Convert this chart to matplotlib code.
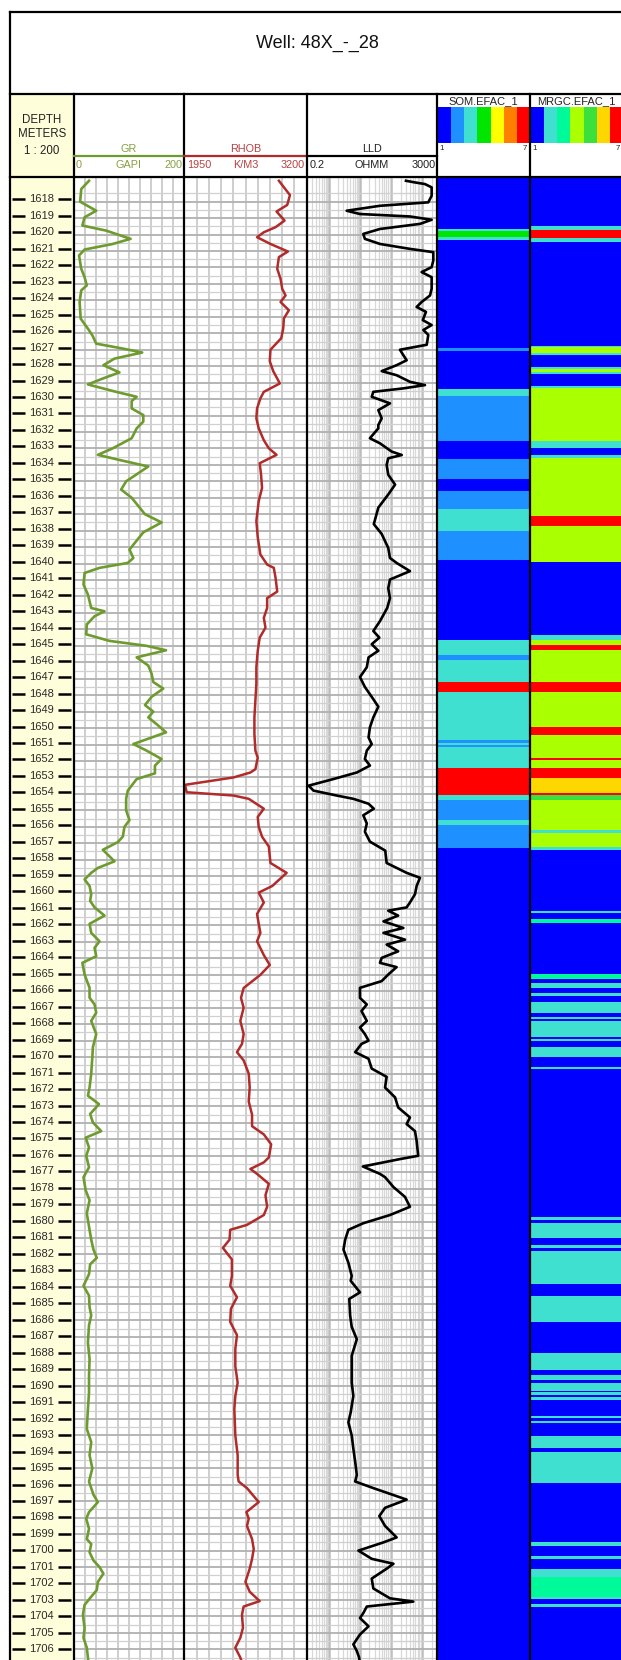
import numpy as np
import matplotlib
matplotlib.use("Agg")
import matplotlib.pyplot as plt
from matplotlib.colors import ListedColormap
from matplotlib.patches import Rectangle

plt.rcParams['font.family'] = ['Liberation Sans', 'DejaVu Sans']

# ---------------------------------------------------------------- data
WELL_NAME = "Well: 48X_-_28"
DEPTH_TICKS = list(range(1618, 1707))

GR_DEPTH = [1616.73, 1617.23, 1618.00, 1618.55, 1618.95, 1619.45, 1619.76, 1620.26, 1620.57, 1620.91,
            1621.27, 1622.08, 1622.59, 1623.09, 1623.39, 1624.10, 1625.11, 1625.72, 1626.12, 1626.63,
            1626.93, 1627.17, 1627.54, 1627.94, 1628.38, 1628.75, 1629.11, 1629.56, 1629.86, 1630.12,
            1630.57, 1630.97, 1631.37, 1631.78, 1632.38, 1632.99, 1633.39, 1633.70, 1634.10, 1635.00,
            1635.50, 1636.00, 1636.50, 1637.00, 1637.50, 1638.10, 1638.60, 1639.15, 1639.66, 1639.96,
            1640.26, 1640.57, 1641.27, 1641.88, 1642.70, 1642.90, 1643.20, 1643.70, 1644.30, 1644.70,
            1645.00, 1645.27, 1645.70, 1646.20, 1646.70, 1647.20, 1647.60, 1648.10, 1648.60, 1649.00,
            1649.35, 1649.76, 1650.26, 1650.57, 1650.97, 1651.37, 1651.88, 1652.28, 1652.75, 1653.10,
            1653.50, 1653.80, 1654.30, 1655.00, 1655.60, 1656.00, 1656.60, 1656.93, 1657.40, 1657.70,
            1658.10, 1658.50, 1658.80, 1659.20, 1659.60, 1660.10, 1660.50, 1660.90, 1661.40, 1661.90,
            1662.45, 1662.96, 1663.36, 1663.87, 1664.27, 1664.98, 1665.79, 1666.39, 1666.80, 1667.30,
            1667.80, 1668.60, 1669.40, 1670.00, 1671.00, 1671.85, 1672.35, 1672.86, 1673.46, 1673.97,
            1674.50, 1674.90, 1675.50, 1676.00, 1676.70, 1677.30, 1678.10, 1678.70, 1679.50, 1680.30,
            1681.10, 1681.70, 1682.20, 1682.60, 1683.20, 1683.90, 1684.50, 1685.20, 1685.70, 1686.30,
            1687.35, 1688.36, 1689.37, 1690.40, 1691.40, 1692.60, 1693.40, 1694.20, 1695.00, 1695.80,
            1696.60, 1697.05, 1697.66, 1698.06, 1698.67, 1699.30, 1699.60, 1700.10, 1700.60, 1701.00,
            1701.40, 1701.90, 1702.40, 1702.80, 1703.30, 1703.90, 1704.70, 1705.30, 1705.90, 1706.50,
            1706.80]
GR_API = [28, 14, 12, 41, 20, 16, 59, 103, 71, 20,
          10, 14, 20, 24, 14, 11, 13, 26, 34, 41,
          89, 124, 74, 54, 83, 53, 26, 77, 114, 105,
          105, 126, 126, 114, 105, 71, 44, 83, 135, 95,
          86, 105, 117, 129, 159, 126, 114, 101, 108, 98,
          47, 20, 18, 26, 32, 56, 38, 24, 23, 65,
          132, 167, 114, 135, 141, 144, 162, 141, 129, 144,
          135, 150, 167, 141, 108, 132, 159, 147, 147, 114,
          105, 98, 95, 95, 101, 92, 89, 80, 53, 62,
          74, 44, 32, 20, 29, 32, 30, 38, 56, 29,
          32, 47, 38, 41, 16, 20, 29, 29, 38, 41,
          32, 41, 35, 34, 32, 29, 26, 46, 30, 35,
          50, 22, 28, 23, 28, 18, 22, 29, 24, 28,
          32, 36, 42, 30, 28, 18, 28, 29, 32, 28,
          26, 29, 28, 28, 26, 24, 32, 29, 34, 28,
          36, 44, 28, 23, 28, 24, 32, 29, 36, 47,
          54, 44, 42, 32, 20, 17, 20, 18, 24, 26,
          27]

RHOB_DEPTH = [1616.73, 1617.60, 1618.20, 1618.60, 1619.15, 1619.55, 1619.86, 1620.16, 1620.57, 1621.03,
              1621.37, 1622.08, 1622.69, 1623.30, 1623.70, 1624.10, 1624.60, 1625.10, 1625.72, 1626.30,
              1627.00, 1627.70, 1628.30, 1629.05, 1629.56, 1629.96, 1630.57, 1631.17, 1631.78, 1632.50,
              1632.99, 1633.39, 1633.90, 1634.60, 1635.40, 1636.20, 1637.40, 1638.40, 1639.45, 1640.06,
              1640.26, 1640.87, 1641.70, 1642.10, 1642.70, 1643.30, 1643.90, 1644.50, 1645.30, 1646.30,
              1647.30, 1648.30, 1649.35, 1650.36, 1651.37, 1651.80, 1652.50, 1652.70, 1653.00, 1653.45,
              1653.90, 1654.10, 1654.30, 1654.90, 1655.40, 1656.00, 1656.60, 1657.20, 1658.20, 1658.80,
              1659.60, 1660.00, 1660.60, 1661.30, 1661.90, 1662.45, 1662.96, 1663.80, 1664.40, 1665.00,
              1665.80, 1666.40, 1667.00, 1667.80, 1668.60, 1669.20, 1669.70, 1670.20, 1671.00, 1671.85,
              1672.70, 1673.50, 1674.20, 1674.70, 1675.30, 1676.10, 1676.40, 1676.80, 1677.10, 1677.70,
              1678.40, 1679.10, 1679.60, 1680.20, 1680.50, 1681.10, 1681.60, 1682.30, 1683.30, 1683.90,
              1684.60, 1685.30, 1686.10, 1686.90, 1687.75, 1688.80, 1689.80, 1690.60, 1691.40, 1693.00,
              1694.20, 1695.40, 1695.80, 1696.20, 1697.05, 1697.66, 1698.06, 1698.50, 1699.30, 1699.90,
              1700.50, 1701.10, 1701.90, 1702.50, 1703.07, 1703.40, 1703.90, 1704.70, 1705.30, 1705.90,
              1706.50, 1706.80]
RHOB_KGM3 = [2916, 3029, 3001, 2892, 2974, 2882, 2762, 2693, 2830, 3008,
             2916, 2899, 2933, 2950, 2984, 2933, 3018, 2967, 2960, 2940,
             2830, 2823, 2858, 2926, 2762, 2727, 2693, 2686, 2710, 2762,
             2813, 2892, 2720, 2734, 2744, 2710, 2686, 2700, 2727, 2796,
             2864, 2882, 2899, 2796, 2796, 2762, 2779, 2720, 2700, 2686,
             2686, 2676, 2666, 2666, 2676, 2700, 2676, 2625, 2453, 1957,
             1974, 2453, 2608, 2762, 2700, 2710, 2744, 2813, 2830, 2995,
             2848, 2710, 2762, 2693, 2710, 2727, 2693, 2762, 2823, 2727,
             2556, 2529, 2556, 2522, 2556, 2539, 2488, 2556, 2608, 2618,
             2608, 2642, 2642, 2762, 2837, 2813, 2762, 2625, 2693, 2813,
             2779, 2796, 2762, 2590, 2419, 2412, 2344, 2436, 2436, 2419,
             2488, 2426, 2419, 2488, 2471, 2471, 2495, 2471, 2461, 2471,
             2495, 2495, 2505, 2590, 2710, 2584, 2608, 2590, 2642, 2659,
             2642, 2618, 2574, 2618, 2720, 2556, 2539, 2549, 2522, 2471,
             2522, 2540]

LLD_DEPTH = [1616.73, 1616.83, 1616.93, 1617.13, 1617.64, 1618.04, 1618.25, 1618.55, 1618.75, 1618.90,
             1619.10, 1619.35, 1619.66, 1619.96, 1620.26, 1620.57, 1620.87, 1621.07, 1621.58, 1621.98,
             1622.28, 1622.59, 1623.29, 1623.70, 1624.10, 1624.40, 1624.70, 1625.20, 1625.50, 1625.80,
             1626.10, 1626.70, 1627.00, 1627.33, 1627.64, 1627.94, 1628.30, 1628.55, 1628.95, 1629.15,
             1629.35, 1629.56, 1629.86, 1630.26, 1630.67, 1631.17, 1631.58, 1631.78, 1632.38, 1632.69,
             1633.19, 1633.40, 1633.60, 1634.00, 1634.60, 1635.20, 1635.80, 1636.60, 1637.60, 1638.20,
             1639.05, 1639.66, 1639.96, 1640.46, 1640.97, 1641.50, 1642.10, 1642.70, 1643.50, 1644.10,
             1644.50, 1644.90, 1645.30, 1645.70, 1646.30, 1646.90, 1647.50, 1648.10, 1648.70, 1649.35,
             1649.96, 1650.57, 1650.97, 1651.37, 1651.88, 1652.28, 1652.70, 1653.10, 1653.50, 1653.80,
             1654.10, 1654.30, 1654.60, 1654.90, 1655.30, 1655.80, 1656.30, 1656.90, 1657.45, 1658.20,
             1658.80, 1659.10, 1659.60, 1660.10, 1660.60, 1660.90, 1661.10, 1661.40, 1661.75, 1662.15,
             1662.45, 1662.86, 1663.16, 1663.57, 1663.97, 1664.27, 1664.53, 1664.98, 1665.38, 1665.79,
             1666.40, 1666.80, 1667.20, 1667.80, 1668.20, 1668.60, 1669.00, 1669.20, 1669.70, 1670.10,
             1670.70, 1671.20, 1671.85, 1672.45, 1673.06, 1673.67, 1674.07, 1674.50, 1675.10, 1676.00,
             1676.20, 1676.65, 1677.10, 1677.30, 1677.90, 1678.50, 1679.10, 1679.60, 1680.10, 1680.50,
             1681.10, 1681.70, 1682.50, 1683.30, 1683.60, 1684.30, 1684.70, 1685.70, 1686.40, 1687.15,
             1688.16, 1688.97, 1689.80, 1690.60, 1691.60, 1692.20, 1693.00, 1693.80, 1694.60, 1695.40,
             1695.80, 1696.20, 1696.90, 1697.40, 1697.90, 1698.50, 1699.20, 1699.50, 1700.00, 1700.50,
             1700.80, 1701.10, 1701.70, 1702.30, 1702.90, 1703.10, 1703.40, 1703.80, 1704.10, 1704.60,
             1705.10, 1705.70, 1706.10, 1706.50, 1706.80]
LLD_OHMM = [299, 580, 1211, 1978, 1978, 1546, 44, 3.8, 10.1, 401,
            1978, 837, 44, 12.9, 14.5, 44, 401, 2235, 2235, 1978,
            946, 1978, 1978, 1758, 946, 655, 1303, 1030, 1978, 1076,
            1546, 1377, 192, 246, 314, 150, 50, 150, 401, 1211,
            246, 27, 24, 92, 39, 50, 39, 39, 21, 44,
            104, 219, 81, 72, 81, 134, 81, 39, 28, 50,
            81, 92, 150, 401, 92, 81, 92, 75, 44, 27,
            42, 24, 39, 19, 16.7, 10.1, 14.5, 24, 39, 27,
            21, 19, 24, 16.7, 14.5, 21, 8.0, 1.42, 0.23, 0.33,
            1.82, 6.2, 19, 28, 12.9, 16.7, 14.5, 21, 65, 72,
            314, 837, 655, 580, 401, 314, 81, 168, 57, 246,
            57, 278, 72, 168, 50, 44, 150, 81, 50, 10.1,
            10.1, 16.7, 11.3, 16.7, 10.1, 14.5, 19, 11.3, 7.1, 19,
            24, 72, 64, 134, 168, 401, 314, 580, 655, 735,
            192, 12.5, 44, 64, 119, 278, 401, 92, 12.9, 4.3,
            3.4, 3.0, 4.3, 5.5, 5.1, 10.1, 4.6, 4.9, 5.5, 8.0,
            5.5, 5.5, 5.5, 6.2, 5.1, 4.3, 5.5, 6.2, 7.1, 8.0,
            7.1, 27, 314, 64, 42, 64, 150, 57, 9.0, 24,
            119, 72, 24, 27, 92, 513, 16.7, 12.9, 10.1, 19,
            10.1, 6.2, 8.0, 9.5, 10]

# Facies intervals: top depth of each interval and its class (1..7)
FACIES_BASE = 1708.0
SOM_TOP = [1616.0, 1619.80, 1619.90, 1620.30, 1620.47, 1627.04, 1627.24, 1629.52, 1629.93, 1632.70,
           1633.77, 1634.98, 1635.73, 1636.80, 1638.16, 1639.87, 1644.72, 1645.63, 1645.94, 1647.31,
           1647.92, 1650.83, 1650.99, 1651.10, 1651.25, 1652.51, 1654.13, 1654.47, 1655.68, 1656.00,
           1657.40]
SOM_CODE = [1, 3, 4, 3, 1, 2, 1, 3, 2, 1,
            2, 1, 2, 3, 2, 1, 3, 2, 3, 7,
            3, 2, 3, 2, 3, 7, 3, 2, 3, 2,
            1]

MRGC_TOP = [1616.0, 1619.60, 1619.86, 1620.37, 1620.57, 1626.90, 1626.98, 1627.34, 1627.44, 1628.20,
            1628.28, 1628.50, 1628.58, 1629.36, 1629.46, 1632.70, 1633.10, 1633.55, 1633.71, 1637.25,
            1637.85, 1640.04, 1644.42, 1644.72, 1645.03, 1645.33, 1647.31, 1647.92, 1650.02, 1650.53,
            1651.90, 1652.06, 1652.51, 1653.11, 1654.02, 1654.16, 1654.47, 1656.25, 1656.45, 1657.30,
            1657.50, 1661.20, 1661.34, 1661.66, 1661.95, 1665.04, 1665.30, 1665.59, 1665.89, 1666.19,
            1666.36, 1666.70, 1667.41, 1667.63, 1667.77, 1667.89, 1668.82, 1668.94, 1669.10, 1669.42,
            1670.03, 1670.64, 1670.80, 1679.79, 1679.96, 1680.10, 1681.01, 1681.46, 1681.62, 1681.83,
            1683.84, 1684.55, 1686.16, 1688.02, 1689.04, 1689.36, 1689.67, 1689.86, 1690.31, 1690.41,
            1690.56, 1690.71, 1690.87, 1691.83, 1691.97, 1692.13, 1692.29, 1693.08, 1693.81, 1694.01,
            1695.93, 1699.47, 1699.75, 1700.36, 1700.52, 1701.13, 1701.63, 1702.85, 1702.95, 1703.26,
            1703.42]
MRGC_CODE = [1, 2, 7, 2, 1, 2, 4, 2, 1, 2,
             4, 2, 1, 2, 4, 2, 1, 2, 4, 7,
             4, 1, 2, 4, 7, 4, 7, 4, 7, 4,
             7, 4, 7, 6, 7, 5, 4, 2, 4, 2,
             1, 2, 1, 3, 1, 3, 1, 2, 1, 2,
             1, 2, 1, 2, 1, 2, 1, 2, 1, 2,
             1, 2, 1, 2, 1, 2, 1, 2, 1, 2,
             1, 2, 1, 2, 1, 2, 1, 2, 1, 2,
             1, 2, 1, 2, 1, 2, 1, 2, 1, 2,
             1, 2, 1, 2, 1, 2, 3, 2, 1, 2,
             1]

SOM_COLORS = ['#0000FF', '#1E90FF', '#40E0D0', '#00E600', '#FFFF00', '#FF8000', '#FF0000']
MRGC_COLORS = ['#0000FF', '#40E0D0', '#00FA9A', '#AAFF00', '#3CE03C', '#FFD700', '#FF0000']

# ---------------------------------------------------------------- layout (pixels)
W, H = 621, 1660
D_TOP, D_BOT = 1616.65, 1706.65
Y_DATA = 177
X_DEPTH, X_GR, X_RHOB, X_LLD, X_SOM, X_MRGC, X_END = 10, 73.5, 184.3, 306.7, 437.3, 530, 623

GRID_MAJOR = '#b0b0b0'
GRID_MINOR = '#d0d0d0'
GRID_VERT = '#c6c6c6'
YELLOW = '#FFFEDB'
GR_COLOR = '#6E9B2E'
RHOB_COLOR = '#B22A2A'

fig = plt.figure(figsize=(W / 100, H / 100), dpi=100)
fig.patch.set_facecolor('white')


def px_axes(x0, y0, x1, y1, **kw):
    return fig.add_axes([x0 / W, 1 - y1 / H, (x1 - x0) / W, (y1 - y0) / H], **kw)


def depth_grid(ax):
    ax.set_ylim(D_BOT, D_TOP)
    ax.set_yticks(DEPTH_TICKS)
    ax.set_yticks(np.arange(1616.5, 1707, 1.0), minor=True)
    ax.grid(which='major', axis='y', color=GRID_MAJOR, lw=1.3)
    ax.grid(which='minor', axis='y', color=GRID_MINOR, lw=0.9)
    ax.tick_params(which='both', length=0, labelleft=False, labelbottom=False)
    for s in ax.spines.values():
        s.set_visible(False)
    ax.set_axisbelow(True)


# depth track
ax_d = px_axes(X_DEPTH, Y_DATA, X_GR, H)
ax_d.set_xlim(0, X_GR - X_DEPTH)
ax_d.set_ylim(D_BOT, D_TOP)
ax_d.axis('off')
ax_d.add_patch(Rectangle((0, D_BOT), X_GR - X_DEPTH, D_TOP - D_BOT, color=YELLOW, zorder=0))
for d in DEPTH_TICKS:
    ax_d.plot([2, 15], [d, d], color='black', lw=1.8, solid_capstyle='butt')
    ax_d.plot([48, 61], [d, d], color='black', lw=1.8, solid_capstyle='butt')
    ax_d.text(31.5, d, str(d), ha='center', va='center', fontsize=8, color='#2a2a2a')

# GR track
ax_gr = px_axes(X_GR, Y_DATA, X_RHOB, H)
ax_gr.set_xlim(0, 200)
depth_grid(ax_gr)
ax_gr.set_xticks(np.arange(20, 200, 20))
ax_gr.grid(which='major', axis='x', color=GRID_VERT, lw=1.2)
ax_gr.plot(GR_API, GR_DEPTH, color=GR_COLOR, lw=1.9)

# RHOB track
ax_rh = px_axes(X_RHOB, Y_DATA, X_LLD, H)
ax_rh.set_xlim(1950, 3200)
depth_grid(ax_rh)
ax_rh.set_xticks(np.arange(2075, 3200, 125))
ax_rh.grid(which='major', axis='x', color=GRID_VERT, lw=1.2)
ax_rh.plot(RHOB_KGM3, RHOB_DEPTH, color=RHOB_COLOR, lw=1.8)

# LLD track (logarithmic)
ax_ll = px_axes(X_LLD, Y_DATA, X_SOM, H)
ax_ll.set_xscale('log')
ax_ll.set_xlim(0.2, 3000)
depth_grid(ax_ll)
ax_ll.set_xticks([1, 10, 100, 1000])
ax_ll.set_xticks([m * 10.0 ** e for e in range(-1, 4) for m in range(2, 10)
                  if 0.2 <= m * 10.0 ** e <= 3000], minor=True)
ax_ll.grid(which='major', axis='x', color='#bcbcbc', lw=1.8)
ax_ll.grid(which='minor', axis='x', color='#d8d8d8', lw=0.9)
ax_ll.tick_params(which='both', length=0, labelbottom=False)
ax_ll.plot(LLD_OHMM, LLD_DEPTH, color='black', lw=1.9)


def facies_track(x0, x1, tops, codes, colors):
    ax = px_axes(x0, Y_DATA, x1, H)
    bases = tops[1:] + [FACIES_BASE]
    heights = np.array(bases) - np.array(tops)
    ax.barh(tops, 1, height=heights, left=0, align='edge',
            color=[colors[c - 1] for c in codes], linewidth=0, antialiased=False)
    ax.set_xlim(0, 1)
    ax.set_ylim(D_BOT, D_TOP)
    ax.axis('off')
    return ax


facies_track(X_SOM, X_MRGC, SOM_TOP, SOM_CODE, SOM_COLORS)
facies_track(X_MRGC, X_END, MRGC_TOP, MRGC_CODE, MRGC_COLORS)

# header colour keys
for x0, x1, cols in [(X_SOM, X_MRGC, SOM_COLORS), (X_MRGC, X_END, MRGC_COLORS)]:
    cb = px_axes(x0 + 1, 107, x1, 143)
    cb.imshow(np.arange(len(cols))[None, :], cmap=ListedColormap(cols), aspect='auto',
              interpolation='nearest')
    cb.axis('off')

# ---------------------------------------------------------------- frame, header text
ov = fig.add_axes([0, 0, 1, 1], zorder=10)
ov.set_xlim(0, W)
ov.set_ylim(H, 0)
ov.axis('off')
ov.patch.set_alpha(0)

ov.add_patch(Rectangle((X_DEPTH, 94), X_GR - X_DEPTH, Y_DATA - 94, color=YELLOW, zorder=0))

LW = 1.6
ov.plot([X_DEPTH, W], [12, 12], color='black', lw=LW)
ov.plot([X_DEPTH, X_DEPTH], [12, H], color='black', lw=LW)
ov.plot([X_DEPTH, W], [94, 94], color='black', lw=LW)
ov.plot([X_DEPTH, W], [Y_DATA, Y_DATA], color='black', lw=LW)
for x in [X_GR, X_RHOB, X_LLD, X_SOM, X_MRGC]:
    ov.plot([x, x], [94, H], color='black', lw=LW)

ov.text(317, 43, WELL_NAME, ha='center', va='center', fontsize=13, color='#111111')

xc = (X_DEPTH + X_GR) / 2
for y, s in [(120, 'DEPTH'), (134, 'METERS'), (151, '1 : 200')]:
    ov.text(xc, y, s, ha='center', va='center', fontsize=8.3, color='#222222')

# curve headers
heads = [
    (X_GR, X_RHOB, 'GR', ('0', 'GAPI', '200'), '#86A040', GR_COLOR),
    (X_RHOB, X_LLD, 'RHOB', ('1950', 'K/M3', '3200'), '#B84040', RHOB_COLOR),
    (X_LLD, X_SOM, 'LLD', ('0.2', 'OHMM', '3000'), '#222222', 'black'),
]
for x0, x1, name, (lo, unit, hi), tcol, lcol in heads:
    mid = (x0 + x1) / 2
    ov.text(mid, 149.5, name, ha='center', va='center', fontsize=7.8, color=tcol)
    ov.plot([x0, x1], [156.5, 156.5], color=lcol, lw=1.6)
    ov.text(x0 + 2.5, 164.5, lo, ha='left', va='center', fontsize=7.8, color=tcol)
    ov.text(mid, 164.5, unit, ha='center', va='center', fontsize=7.8, color=tcol)
    ov.text(x1 - 1.5, 164.5, hi, ha='right', va='center', fontsize=7.8, color=tcol)

for x0, x1, name in [(X_SOM, X_MRGC, 'SOM.EFAC_1'), (X_MRGC, X_END, 'MRGC.EFAC_1')]:
    ov.text((x0 + x1) / 2, 101, name, ha='center', va='center', fontsize=8, color='#222222')
    ov.text(x0 + 2, 148, '1', ha='left', va='center', fontsize=5.8, color='#222222')
    ov.text(x1 - 3, 148, '7', ha='right', va='center', fontsize=5.8, color='#222222')

fig.savefig('out.png', dpi=100)
